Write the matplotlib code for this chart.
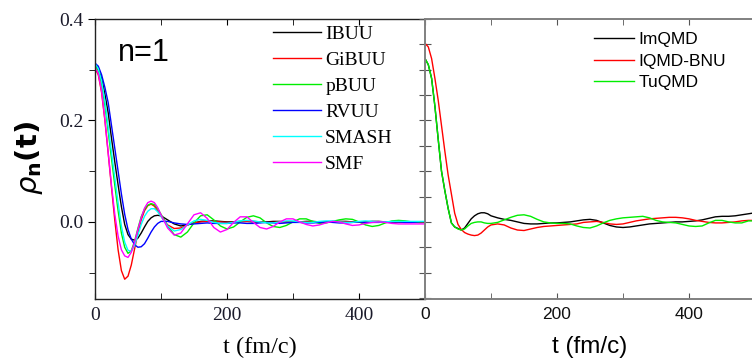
import numpy as np
import matplotlib
matplotlib.use('Agg')
import matplotlib.pyplot as plt
from matplotlib.ticker import MultipleLocator, FixedLocator

# time grid (fm/c) shared by all curves
t = [0, 5, 10, 15, 20, 25, 30, 35, 40, 45, 50, 55, 60, 65, 70, 75, 80, 85, 90, 95, 100,
     110, 120, 130, 140, 150, 160, 170, 180, 190, 200, 210, 220, 230, 240, 250, 260, 270,
     280, 290, 300, 310, 320, 330, 340, 350, 360, 370, 380, 390, 400, 410, 420, 430, 440,
     450, 460, 470, 480, 490, 500]

# left panel: BUU-type codes
ibuu = [0.310, 0.303, 0.283, 0.252, 0.215, 0.165, 0.118, 0.073, 0.030, -0.005, -0.025,
        -0.034, -0.036, -0.032, -0.022, -0.010, 0.001, 0.008, 0.012, 0.013, 0.012,
        0.004, -0.004, -0.008, -0.006, -0.002, 0.001, 0.002, 0.002, 0.001, 0.000, 0.000,
        0.001, 0.001, 0.000, 0.000, 0.000, 0.001, 0.001, 0.000, 0.000, 0.000, 0.001,
        0.001, 0.000, 0.000, 0.000, 0.001, 0.001, 0.000, 0.000, 0.000, 0.001, 0.001,
        0.000, 0.000, 0.000, 0.000, 0.000, 0.000, 0.000]
gibuu = [0.303, 0.290, 0.255, 0.200, 0.135, 0.068, 0.003, -0.055, -0.096, -0.113, -0.107,
         -0.085, -0.053, -0.022, 0.004, 0.022, 0.032, 0.035, 0.031, 0.022, 0.011,
         -0.006, -0.013, -0.012, -0.006, -0.002, 0.000, 0.001, 0.001, 0.000, -0.001,
         -0.001, 0.000, 0.001, 0.001, 0.000, -0.001, -0.001, 0.000, 0.000, 0.000, 0.000,
         0.000, 0.000, 0.000, 0.000, 0.000, 0.000, 0.000, 0.000, 0.000, 0.000, 0.000,
         0.000, 0.000, 0.000, 0.000, 0.000, 0.000, 0.000, 0.000]
pbuu = [0.308, 0.298, 0.272, 0.230, 0.178, 0.125, 0.072, 0.022, -0.022, -0.050, -0.062,
        -0.057, -0.038, -0.013, 0.010, 0.025, 0.033, 0.036, 0.034, 0.026, 0.015,
        -0.008, -0.025, -0.030, -0.020, -0.002, 0.012, 0.014, 0.004, -0.008, -0.014,
        -0.010, 0.000, 0.009, 0.012, 0.008, -0.002, -0.009, -0.011, -0.007, 0.000, 0.006,
        0.006, 0.001, -0.003, -0.002, 0.001, 0.004, 0.006, 0.005, 0.000, -0.006, -0.009,
        -0.007, -0.002, 0.002, 0.003, 0.002, 0.000, -0.001, -0.001]
rvuu = [0.313, 0.307, 0.290, 0.265, 0.235, 0.190, 0.145, 0.100, 0.055, 0.015, -0.015,
        -0.034, -0.045, -0.050, -0.049, -0.043, -0.032, -0.020, -0.010, -0.003, 0.001,
        0.001, -0.002, -0.004, -0.005, -0.004, -0.003, -0.002, -0.003, -0.003, -0.003,
        -0.002, -0.002, -0.003, -0.003, -0.002, -0.001, -0.002, -0.003, -0.002, -0.001,
        -0.001, -0.002, -0.002, -0.001, 0.000, -0.001, -0.002, -0.002, -0.001, 0.000,
        -0.001, -0.001, -0.001, 0.000, 0.000, 0.000, -0.001, -0.001, 0.000, 0.000]
smash = [0.312, 0.302, 0.278, 0.238, 0.187, 0.137, 0.087, 0.038, -0.008, -0.040, -0.056,
         -0.058, -0.046, -0.026, -0.005, 0.011, 0.021, 0.026, 0.026, 0.020, 0.011,
         -0.008, -0.018, -0.015, -0.006, 0.002, 0.005, 0.003, -0.001, -0.003, -0.003,
         -0.001, 0.002, 0.003, 0.002, 0.000, -0.002, -0.002, 0.000, 0.002, 0.002, 0.000,
         -0.001, -0.001, 0.001, 0.002, 0.002, 0.000, -0.001, -0.001, 0.001, 0.002, 0.001,
         0.000, 0.000, 0.001, 0.001, 0.001, 0.001, 0.001, 0.001]
smf = [0.305, 0.292, 0.258, 0.202, 0.137, 0.072, 0.015, -0.028, -0.055, -0.067, -0.070,
       -0.060, -0.040, -0.015, 0.008, 0.027, 0.038, 0.041, 0.038, 0.028, 0.014,
       -0.012, -0.026, -0.022, -0.004, 0.014, 0.018, 0.007, -0.011, -0.020, -0.015,
       -0.001, 0.010, 0.010, -0.001, -0.011, -0.014, -0.009, 0.000, 0.006, 0.006, 0.000,
       -0.005, -0.008, -0.006, -0.002, 0.001, 0.000, -0.004, -0.007, -0.006, -0.003,
       -0.001, 0.000, -0.001, -0.003, -0.004, -0.004, -0.004, -0.004, -0.004]

# right panel: QMD-type codes
imqmd = [0.322, 0.310, 0.283, 0.228, 0.163, 0.100, 0.062, 0.027, -0.002, -0.010, -0.013,
         -0.016, -0.012, -0.003, 0.006, 0.012, 0.016, 0.018, 0.018, 0.016, 0.012,
         0.008, 0.005, 0.003, 0.000, -0.003, -0.004, -0.004, -0.003, -0.002, -0.002,
         -0.001, 0.000, 0.002, 0.004, 0.005, 0.003, -0.002, -0.007, -0.010, -0.011,
         -0.010, -0.008, -0.006, -0.004, -0.003, -0.002, -0.001, 0.000, 0.000, 0.001,
         0.002, 0.004, 0.007, 0.010, 0.011, 0.011, 0.012, 0.014, 0.016, 0.018]
iqmd_bnu = [0.352, 0.345, 0.322, 0.283, 0.240, 0.190, 0.140, 0.093, 0.055, 0.017, -0.005,
            -0.015, -0.021, -0.024, -0.026, -0.027, -0.026, -0.022, -0.016, -0.010, -0.006,
            -0.004, -0.006, -0.012, -0.016, -0.017, -0.014, -0.011, -0.009, -0.008, -0.007,
            -0.006, -0.005, -0.004, -0.001, 0.000, 0.001, -0.001, -0.004, -0.005, -0.004,
            -0.001, 0.002, 0.004, 0.006, 0.007, 0.008, 0.009, 0.009, 0.008, 0.006, 0.003,
            0.001, -0.001, -0.002, -0.002, -0.001, 0.000, 0.002, 0.003, 0.003]
tuqmd = [0.322, 0.310, 0.283, 0.228, 0.163, 0.100, 0.062, 0.027, -0.002, -0.010, -0.014,
         -0.016, -0.014, -0.008, -0.003, -0.001, 0.000, 0.000, -0.002, -0.003, -0.003,
         -0.001, 0.004, 0.009, 0.013, 0.014, 0.011, 0.005, 0.000, -0.002, -0.003, -0.003,
         -0.004, -0.008, -0.011, -0.012, -0.008, -0.002, 0.003, 0.006, 0.008, 0.009, 0.010,
         0.011, 0.008, 0.003, 0.000, -0.001, -0.002, -0.005, -0.008, -0.009, -0.008,
         -0.002, 0.003, 0.003, 0.000, -0.002, -0.002, 0.002, 0.002]

left_series = [('IBUU', ibuu, 'black'), ('GiBUU', gibuu, '#ff0000'), ('pBUU', pbuu, '#00ee00'),
               ('RVUU', rvuu, '#0000ff'), ('SMASH', smash, '#00ffff'), ('SMF', smf, '#ff00ff')]
right_series = [('ImQMD', imqmd, 'black'), ('IQMD-BNU', iqmd_bnu, '#ff0000'),
                ('TuQMD', tuqmd, '#00ee00')]

W, H = 752, 360
fig = plt.figure(figsize=(W / 100, H / 100), dpi=100)
axL = fig.add_axes([95 / W, 61 / H, 330 / W, 280 / H])
axR = fig.add_axes([425 / W, 61 / H, 330 / W, 280 / H])

serif = 'Liberation Serif'
sans = 'Liberation Sans'

for name, y, c in left_series:
    axL.plot(t, y, color=c, lw=1.0, label=name)
for name, y, c in right_series:
    axR.plot(t, y, color=c, lw=1.0, label=name)

for ax in (axL, axR):
    ax.set_xlim(0, 500)
    ax.set_ylim(-0.152, 0.4)
    ax.xaxis.set_major_locator(FixedLocator([0, 200, 400]))
    ax.xaxis.set_minor_locator(FixedLocator([100, 300, 500]))
    ax.tick_params(axis='x', which='both', direction='in', top=True, length=4, pad=6)

# left panel axes
for s in axL.spines.values():
    s.set_color('#222222')
    s.set_linewidth(1.0)
axL.spines['right'].set_visible(False)
axL.yaxis.set_major_locator(FixedLocator([0.0, 0.2, 0.4]))
axL.yaxis.set_minor_locator(FixedLocator([-0.1, 0.1, 0.3]))
axL.set_yticklabels(['0.0', '0.2', '0.4'])
axL.tick_params(axis='y', which='major', direction='out', length=5, pad=3)
axL.tick_params(axis='y', which='minor', direction='out', length=4)
for lab in axL.get_xticklabels() + axL.get_yticklabels():
    lab.set_fontfamily(serif)
    lab.set_fontsize(14)
    lab.set_color('#1a1a2a')
axL.set_xlabel('t (fm/c)', fontfamily=serif, fontsize=17.5, labelpad=9)

# right panel axes
for s in axR.spines.values():
    s.set_color('#808080')
    s.set_linewidth(1.4)
axR.yaxis.set_major_locator(MultipleLocator(0.05))
axR.tick_params(axis='y', which='major', direction='inout', length=8, labelleft=False,
                color='#555555')
axR.tick_params(axis='x', which='both', color='#555555')
for lab in axR.get_xticklabels():
    lab.set_fontfamily(sans)
    lab.set_fontsize(12.5)
    lab.set_color('#111111')
axR.set_xlabel('t (fm/c)', fontfamily=sans, fontsize=17.5, labelpad=10)

axL.text(0.07, 0.85, 'n=1', transform=axL.transAxes, fontfamily=sans, fontsize=22)

legL = axL.legend(loc='upper left', bbox_to_anchor=(0.515, 1.004), frameon=False,
                  prop={'family': serif, 'size': 14}, handlelength=2.5,
                  handletextpad=0.2, labelspacing=0.43, borderaxespad=0)
legR = axR.legend(loc='upper left', bbox_to_anchor=(0.49, 0.979), frameon=False,
                  prop={'family': sans, 'size': 12.5}, handlelength=2.3,
                  handletextpad=0.29, labelspacing=0.38, borderaxespad=0)

plt.rcParams['mathtext.fontset'] = 'dejavusans'
fig.text(0.038, 0.56, r'$\rho_\mathbf{n}\mathbf{(t)}$', rotation=90, fontsize=21,
         ha='center', va='center')

fig.savefig('out.png', dpi=100)
